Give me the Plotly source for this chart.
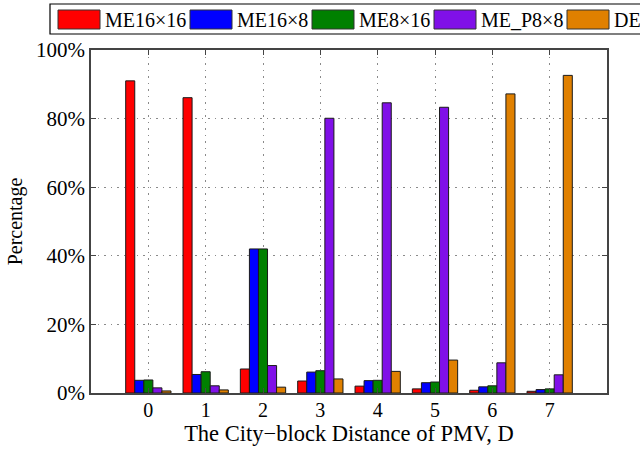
import plotly.graph_objects as go

# ---- data ----
distances = [0, 1, 2, 3, 4, 5, 6, 7]
series_names = ["ME16×16", "ME16×8", "ME8×16", "ME_P8×8", "DE"]
me16x16 = [91.0, 86.1, 7.0, 3.5, 2.0, 1.2, 0.8, 0.5]
me16x8 = [3.7, 5.4, 42.0, 6.1, 3.6, 3.0, 1.8, 1.0]
me8x16 = [3.8, 6.2, 42.0, 6.5, 3.7, 3.2, 2.1, 1.2]
me_p8x8 = [1.5, 2.1, 8.0, 80.1, 84.6, 83.3, 8.8, 5.3]
de = [0.6, 0.9, 1.7, 4.1, 6.3, 9.6, 87.2, 92.6]
y_ticks = [0, 20, 40, 60, 80, 100]
y_tick_labels = ["0%", "20%", "40%", "60%", "80%", "100%"]

series_values = [me16x16, me16x8, me8x16, me_p8x8, de]
colors = ["#FF0000", "#0000FF", "#008000", "#8010E8", "#E08000"]

# ---- layout constants (pixels) ----
W, H = 640, 449
ML, MR, MT, MB = 91, 33, 50, 56
PW, PH = W - ML - MR, H - MT - MB
FONT = "Liberation Serif, Times New Roman, serif"

# legend geometry (pixels, figure coordinates)
LEG_BOX = (50, 4, 700, 34)             # x0, y0, x1, y1
LEG_ITEM_X = [58, 190, 312, 434, 567]  # left edge of each swatch
SW_W, SW_Y0, SW_Y1 = 42, 10, 29
TEXT_GAP = 3


def px_x(px):
    return (px - ML) / PW


def px_y(py):
    return 1 - (py - MT) / PH


fig = go.Figure()
for name, vals, col in zip(series_names, series_values, colors):
    fig.add_trace(go.Bar(
        x=distances, y=vals, name=name, showlegend=False,
        marker=dict(color=col, line=dict(color="#1a1a1a", width=1)),
    ))

# manual MATLAB-style legend
shapes = [dict(type="rect", xref="paper", yref="paper",
               x0=px_x(LEG_BOX[0]), x1=px_x(LEG_BOX[2]),
               y0=px_y(LEG_BOX[3]), y1=px_y(LEG_BOX[1]),
               line=dict(color="black", width=1.2), fillcolor="white", layer="above")]
annotations = []
for name, col, lx in zip(series_names, colors, LEG_ITEM_X):
    shapes.append(dict(type="rect", xref="paper", yref="paper",
                       x0=px_x(lx), x1=px_x(lx + SW_W),
                       y0=px_y(SW_Y1), y1=px_y(SW_Y0),
                       line=dict(color="#333333", width=1), fillcolor=col, layer="above"))
    annotations.append(dict(text=name, xref="paper", yref="paper",
                            x=px_x(lx + SW_W + TEXT_GAP), y=px_y((SW_Y0 + SW_Y1) / 2),
                            xanchor="left", yanchor="middle", showarrow=False,
                            font=dict(family=FONT, size=20, color="black")))

axis_common = dict(
    showline=True, linecolor="#444444", linewidth=1.5, mirror="ticks",
    ticks="inside", ticklen=5, tickcolor="#444444", tickwidth=1,
    showgrid=True, gridcolor="#8a8a8a", griddash="1.5px,5px", gridwidth=1.2,
    zeroline=False,
)

fig.update_layout(
    width=W, height=H,
    margin=dict(l=ML, r=MR, t=MT, b=MB, autoexpand=False),
    paper_bgcolor="white", plot_bgcolor="white",
    barmode="group", bargap=0.21, bargroupgap=0,
    font=dict(family=FONT, size=20, color="black"),
    showlegend=False,
    xaxis=dict(
        range=[-1, 8], tickvals=distances, ticktext=[str(d) for d in distances],
        ticklabelstandoff=-2,
        tickfont=dict(family=FONT, size=20, color="black"),
        title=dict(text="The City−block Distance of PMV, D", standoff=0,
                   font=dict(family=FONT, size=22.5)),
        **axis_common,
    ),
    yaxis=dict(
        range=[0, 100], tickvals=y_ticks, ticktext=y_tick_labels,
        tickfont=dict(family=FONT, size=21, color="black"),
        title=dict(text="Percentage", standoff=8, font=dict(family=FONT, size=20)),
        **axis_common,
    ),
    shapes=shapes,
    annotations=annotations,
)

fig.write_html("out.html", config={"displayModeBar": False},
               post_script="document.body.style.margin='0';")
